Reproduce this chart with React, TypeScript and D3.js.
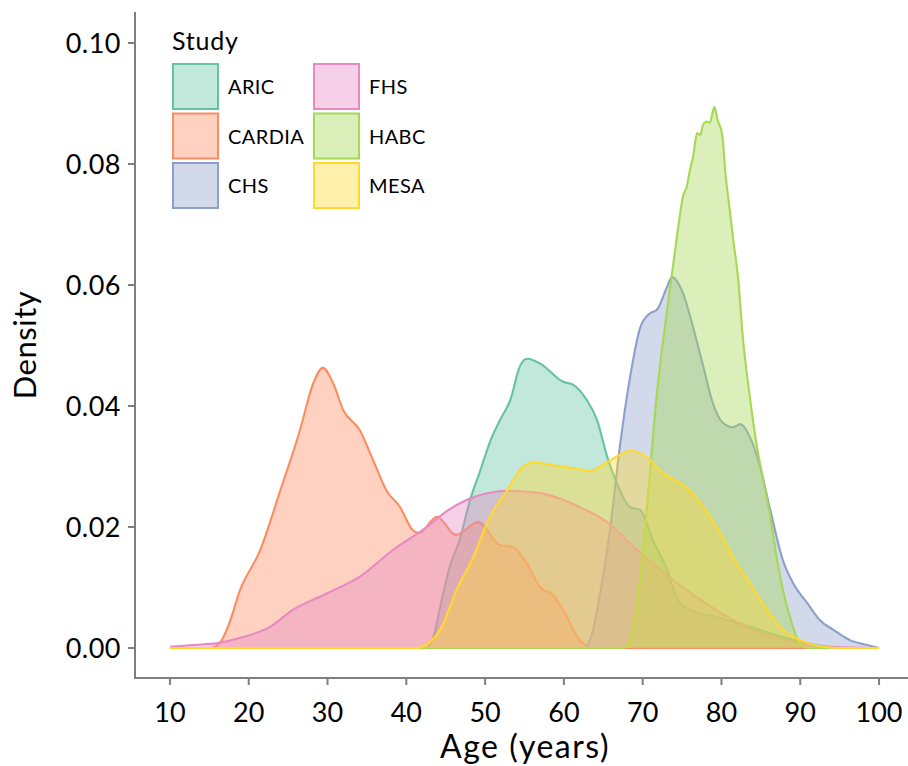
import { useRef, useEffect } from 'react';
import * as d3 from 'd3';

// study names and Set2 colours
const STUDIES = ['ARIC', 'CARDIA', 'CHS', 'FHS', 'HABC', 'MESA'];
const COLORS = ['#66c2a5', '#fc8d62', '#8da0cb', '#e78ac3', '#a6d854', '#ffd92f'];

// [age, density]
const ARIC = [
  [10, 0], [42.5, 0], [43.5, 0.002], [44.3, 0.0068], [45.5, 0.0134], [46.8, 0.018], [48.1, 0.0245],
  [49.3, 0.029], [50.6, 0.034], [51.9, 0.0377], [53.2, 0.041], [54.4, 0.0465], [55.3, 0.0478],
  [57, 0.047], [59.9, 0.044], [61.2, 0.0435], [62.9, 0.041], [64.2, 0.0377], [65.5, 0.0316],
  [66.7, 0.0273], [68.4, 0.0233], [69.7, 0.0228], [71.3, 0.0178], [73.1, 0.0129], [74.4, 0.008],
  [76, 0.0063], [79.4, 0.0051], [83.6, 0.0035], [87.8, 0.0018], [92, 0.0005], [95, 0], [100, 0],
];
const CARDIA = [
  [10, 0], [15, 0], [16.3, 0.0008], [17.5, 0.004], [18.9, 0.0096], [21.4, 0.016], [24, 0.026],
  [26.5, 0.036], [28.2, 0.0438], [29.4, 0.0463], [30.7, 0.0438], [32, 0.0393], [34.1, 0.036],
  [35.8, 0.031], [37.5, 0.026], [39.2, 0.0233], [40.8, 0.0195], [41.6, 0.019], [43.9, 0.0217],
  [46.3, 0.0187], [49.1, 0.0208], [51.9, 0.017], [53.5, 0.0167], [55.3, 0.014], [57, 0.010],
  [58.6, 0.0088], [60.4, 0.0051], [61.7, 0.0018], [62.9, 0.0003], [63.5, 0], [100, 0],
];
const CHS = [
  [10, 0], [62.5, 0], [63.5, 0.002], [64.6, 0.009], [65.9, 0.02], [67.1, 0.0333], [68.4, 0.0448],
  [69.7, 0.053], [70.9, 0.0553], [71.8, 0.0559], [73.1, 0.0597], [73.7, 0.0613], [75.1, 0.0587],
  [76.4, 0.053], [77.7, 0.0465], [78.9, 0.0405], [80.2, 0.0372], [81.5, 0.0365], [82.4, 0.037],
  [83.6, 0.0349], [84.9, 0.03], [86.2, 0.0228], [87.8, 0.0145], [89.1, 0.0107], [90.9, 0.0074],
  [92.5, 0.0046], [94.2, 0.003], [96.3, 0.0013], [98.5, 0.0005], [100, 0],
];
const FHS = [
  [10, 0.0002], [13, 0.0005], [16, 0.0008], [19.3, 0.0018], [22.7, 0.0035], [25.6, 0.0063],
  [29.9, 0.009], [34.1, 0.0118], [38.3, 0.0162], [42.6, 0.02], [45, 0.0225], [47.7, 0.0245],
  [50, 0.0255], [52.8, 0.026], [57, 0.0256], [62, 0.0233], [65.5, 0.0208], [69.7, 0.0157],
  [73.9, 0.0112], [77.3, 0.008], [81.5, 0.0046], [85.8, 0.0021], [90, 0.0008], [94, 0.0002], [100, 0],
];
const HABC = [
  [10, 0], [67.5, 0], [68.3, 0.001], [68.8, 0.0035], [69.7, 0.0117], [70.7, 0.0256], [71.8, 0.042],
  [72.6, 0.0509], [73.1, 0.0559], [73.9, 0.0636], [74.7, 0.0713], [75.1, 0.0746], [75.6, 0.0763],
  [76, 0.079], [76.4, 0.0812], [76.9, 0.0851], [77.3, 0.0848], [77.7, 0.0866], [78.2, 0.087],
  [78.5, 0.0868], [79.1, 0.0894], [79.5, 0.0873], [80.1, 0.0848], [80.5, 0.0785], [80.9, 0.074],
  [81.5, 0.0674], [82.1, 0.0613], [82.7, 0.0515], [83.6, 0.0415], [84.5, 0.0333], [85.3, 0.0278],
  [86.2, 0.0217], [87, 0.015], [87.8, 0.0096], [88.7, 0.0051], [89.7, 0.0013], [90.5, 0.0002],
  [91, 0], [100, 0],
];
const MESA = [
  [10, 0], [41.5, 0], [42.1, 0.0003], [43, 0.001], [44.3, 0.003], [46.4, 0.0096], [48.5, 0.015],
  [50.6, 0.0217], [52.8, 0.0261], [54.4, 0.0294], [56.1, 0.0307], [58.6, 0.0302], [61.2, 0.0297],
  [63.3, 0.0293], [65.5, 0.0307], [68.4, 0.0326], [70.5, 0.0316], [72.6, 0.0289], [75.1, 0.027],
  [77.3, 0.024], [79.4, 0.02], [81.5, 0.015], [83.6, 0.0107], [85.8, 0.0063], [87.8, 0.003],
  [90, 0.0013], [92.5, 0.0003], [95, 0], [100, 0],
];
const SERIES = [ARIC, CARDIA, CHS, FHS, HABC, MESA];

const X_TICKS = [10, 20, 30, 40, 50, 60, 70, 80, 90, 100];
const Y_TICKS = [0, 0.02, 0.04, 0.06, 0.08, 0.1];

const FONT = 'Lato, "Open Sans", sans-serif';

export default function App() {
  const svgRef = useRef<SVGSVGElement>(null);

  useEffect(() => {
    const svg = d3.select(svgRef.current);
    svg.selectAll('*').remove();

    const width = 908;

    // expanded panel domain like ggplot
    const x = d3.scaleLinear().domain([5.5, 104.5]).range([134.5, 914.5]);
    const y = d3.scaleLinear().domain([0, 0.1]).range([648, 43]);

    const area = d3.area<number[]>()
      .x((d) => x(d[0]))
      .y0(y(0))
      .y1((d) => y(d[1]))
      .curve(d3.curveMonotoneX);
    const line = d3.line<number[]>()
      .x((d) => x(d[0]))
      .y((d) => y(d[1]))
      .curve(d3.curveMonotoneX);

    const g = svg.append('g');

    SERIES.forEach((s, i) => {
      g.append('path')
        .attr('d', area(s))
        .attr('fill', COLORS[i])
        .attr('fill-opacity', 0.4);
      g.append('path')
        .attr('d', line(s))
        .attr('fill', 'none')
        .attr('stroke', COLORS[i])
        .attr('stroke-width', 2.1)
        .attr('stroke-linejoin', 'round');
    });

    // axes
    const axisColor = '#7f7f7f';
    const left = 135;
    const bottom = 678;

    svg.append('line')
      .attr('x1', left).attr('x2', left)
      .attr('y1', 12).attr('y2', bottom + 1)
      .attr('stroke', axisColor).attr('stroke-width', 2);
    svg.append('line')
      .attr('x1', left - 1).attr('x2', width)
      .attr('y1', bottom).attr('y2', bottom)
      .attr('stroke', axisColor).attr('stroke-width', 2);

    svg.append('g').selectAll('line')
      .data(Y_TICKS)
      .join('line')
      .attr('x1', left - 7).attr('x2', left)
      .attr('y1', (d) => y(d)).attr('y2', (d) => y(d))
      .attr('stroke', axisColor).attr('stroke-width', 2);
    svg.append('g').selectAll('text')
      .data(Y_TICKS)
      .join('text')
      .attr('x', left - 14)
      .attr('y', (d) => y(d))
      .attr('dy', '0.36em')
      .attr('text-anchor', 'end')
      .attr('font-family', FONT)
      .attr('font-size', 27)
      .attr('letter-spacing', 0.5)
      .attr('fill', '#000')
      .text((d) => d3.format('.2f')(d));

    svg.append('g').selectAll('line')
      .data(X_TICKS)
      .join('line')
      .attr('x1', (d) => x(d)).attr('x2', (d) => x(d))
      .attr('y1', bottom).attr('y2', bottom + 7)
      .attr('stroke', axisColor).attr('stroke-width', 2);
    svg.append('g').selectAll('text')
      .data(X_TICKS)
      .join('text')
      .attr('x', (d) => x(d))
      .attr('y', 712)
      .attr('dy', '0.36em')
      .attr('text-anchor', 'middle')
      .attr('font-family', FONT)
      .attr('font-size', 27)
      .attr('fill', '#000')
      .text((d) => d);

    svg.append('text')
      .attr('x', 525).attr('y', 758)
      .attr('text-anchor', 'middle')
      .attr('font-family', FONT)
      .attr('font-size', 32)
      .attr('letter-spacing', 1.5)
      .attr('fill', '#000')
      .text('Age (years)');
    svg.append('text')
      .attr('transform', `translate(36,345) rotate(-90)`)
      .attr('text-anchor', 'middle')
      .attr('font-family', FONT)
      .attr('font-size', 31)
      .attr('letter-spacing', 0.5)
      .attr('fill', '#000')
      .text('Density');

    // legend
    const lg = svg.append('g');
    lg.append('text')
      .attr('x', 172).attr('y', 50)
      .attr('font-family', FONT)
      .attr('font-size', 25)
      .attr('letter-spacing', 0.8)
      .attr('fill', '#000')
      .text('Study');
    STUDIES.forEach((name, i) => {
      const col = Math.floor(i / 3);
      const row = i % 3;
      const kx = 173 + col * 141;
      const ky = 64 + row * 49.5;
      lg.append('rect')
        .attr('x', kx).attr('y', ky)
        .attr('width', 45).attr('height', 45)
        .attr('fill', d3.interpolateRgb('#ffffff', COLORS[i])(0.4))
        .attr('stroke', COLORS[i])
        .attr('stroke-width', 2);
      lg.append('text')
        .attr('x', kx + 55).attr('y', ky + 23)
        .attr('dy', '0.36em')
        .attr('font-family', FONT)
        .attr('font-size', 20)
        .attr('letter-spacing', 0.4)
        .attr('fill', '#000')
        .text(name);
    });
  }, []);

  return (
    <div style={{ position: 'absolute', left: 0, top: 0 }}>
      <svg ref={svgRef} width={908} height={766} style={{ display: 'block', background: '#fff' }} />
    </div>
  );
}
